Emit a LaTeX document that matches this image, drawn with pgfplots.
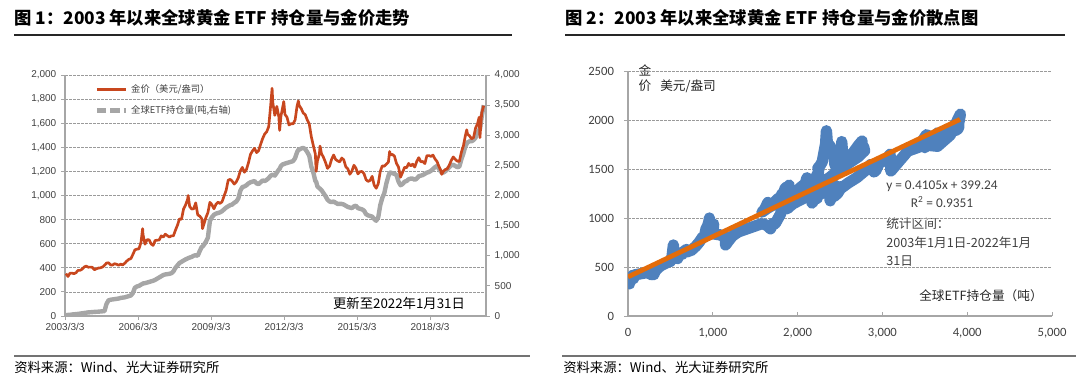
\documentclass[border=0pt]{standalone}
\usepackage{pgfplots}
\pgfplotsset{compat=1.18}
\usepackage{pgfplotstable}
\usepackage{fontspec}
\setmainfont{Liberation Sans}
\newfontfamily\cjk{Noto Sans CJK SC}
\newfontfamily\cali{Carlito}
\definecolor{goldred}{HTML}{C8471E}
\definecolor{etfgray}{HTML}{A6A6A6}
\definecolor{scblue}{HTML}{4F81BD}
\definecolor{trendor}{HTML}{E46C0A}
\definecolor{axgray}{HTML}{A6A6A6}
\definecolor{gridgray}{HTML}{9A9A9A}
\definecolor{txt}{HTML}{404040}

\pgfplotstableread{
t gold etf
2003.208 352 15
2003.292 328 18
2003.375 355 20
2003.458 356 25
2003.542 351 28
2003.625 360 32
2003.708 379 35
2003.792 379 40
2003.875 389 45
2003.958 407 50
2004.042 414 55
2004.125 405 60
2004.208 406 62
2004.292 404 65
2004.375 384 68
2004.458 392 70
2004.542 398 72
2004.625 400 75
2004.708 406 78
2004.792 420 80
2004.875 439 200
2004.958 442 260
2005.042 424 270
2005.125 423 275
2005.208 434 280
2005.292 429 285
2005.375 422 290
2005.458 430 300
2005.542 424 305
2005.625 438 310
2005.708 456 320
2005.792 470 330
2005.875 476 340
2005.958 510 380
2006.042 549 470
2006.125 555 490
2006.208 557 500
2006.292 610 520
2006.360 725 535
2006.375 676 540
2006.458 596 545
2006.542 633 555
2006.625 632 565
2006.708 598 575
2006.792 586 585
2006.875 627 600
2006.958 629 620
2007.042 631 640
2007.125 665 660
2007.208 655 680
2007.292 679 690
2007.375 667 695
2007.458 655 700
2007.542 665 710
2007.625 665 740
2007.708 712 800
2007.792 754 840
2007.875 806 880
2007.958 803 900
2008.042 889 920
2008.125 922 940
2008.208 968 955
2008.230 1000 960
2008.292 909 970
2008.375 888 980
2008.458 890 1000
2008.542 939 1010
2008.625 839 1000
2008.708 829 1080
2008.792 806 1150
2008.820 725 1150
2008.875 760 1180
2008.958 816 1230
2009.042 858 1300
2009.125 943 1580
2009.208 924 1640
2009.292 890 1680
2009.375 928 1700
2009.458 945 1710
2009.542 934 1720
2009.625 949 1740
2009.708 996 1770
2009.792 1043 1800
2009.875 1127 1820
2009.958 1134 1840
2010.042 1118 1850
2010.125 1095 1880
2010.208 1113 1900
2010.292 1148 1950
2010.375 1205 2080
2010.458 1233 2140
2010.542 1193 2150
2010.625 1215 2170
2010.708 1271 2200
2010.792 1342 2220
2010.875 1370 2230
2010.958 1391 2240
2011.042 1356 2200
2011.125 1372 2190
2011.208 1424 2220
2011.292 1473 2250
2011.375 1510 2240
2011.458 1529 2260
2011.542 1572 2290
2011.625 1756 2330
2011.680 1890 2340
2011.708 1772 2350
2011.792 1665 2330
2011.875 1739 2380
2011.958 1652 2430
2011.990 1540 2440
2012.042 1656 2490
2012.125 1742 2520
2012.160 1780 2520
2012.208 1673 2530
2012.292 1650 2540
2012.375 1585 2550
2012.458 1596 2560
2012.542 1594 2570
2012.625 1626 2620
2012.708 1744 2720
2012.760 1785 2760
2012.792 1747 2760
2012.875 1722 2780
2012.958 1685 2790
2013.042 1671 2770
2013.125 1627 2720
2013.208 1593 2660
2013.292 1487 2480
2013.375 1414 2380
2013.458 1343 2240
2013.490 1200 2230
2013.542 1286 2150
2013.625 1347 2120
2013.650 1410 2110
2013.708 1349 2090
2013.792 1316 2040
2013.875 1275 1990
2013.958 1225 1930
2014.042 1244 1900
2014.125 1300 1890
2014.208 1336 1900
2014.292 1299 1880
2014.375 1287 1860
2014.458 1279 1860
2014.542 1311 1860
2014.625 1296 1850
2014.708 1239 1830
2014.792 1222 1810
2014.875 1176 1800
2014.958 1201 1790
2015.042 1251 1820
2015.125 1227 1830
2015.208 1179 1790
2015.292 1198 1780
2015.375 1199 1770
2015.458 1181 1750
2015.542 1131 1690
2015.625 1117 1670
2015.708 1125 1660
2015.792 1159 1650
2015.875 1086 1610
2015.958 1060 1580
2016.042 1097 1640
2016.125 1200 1840
2016.208 1246 1960
2016.292 1243 2040
2016.375 1260 2200
2016.458 1276 2320
2016.510 1365 2380
2016.542 1337 2380
2016.625 1341 2370
2016.708 1326 2360
2016.792 1266 2340
2016.875 1236 2230
2016.958 1152 2170
2017.042 1192 2190
2017.125 1234 2230
2017.208 1231 2240
2017.292 1266 2270
2017.375 1246 2280
2017.458 1260 2280
2017.542 1236 2260
2017.625 1283 2280
2017.708 1314 2320
2017.792 1280 2330
2017.875 1282 2340
2017.958 1265 2360
2018.042 1331 2380
2018.125 1331 2390
2018.208 1325 2410
2018.292 1335 2440
2018.375 1303 2470
2018.458 1282 2490
2018.542 1238 2440
2018.625 1202 2390
2018.650 1175 2385
2018.708 1198 2380
2018.792 1215 2400
2018.875 1220 2430
2018.958 1250 2470
2019.042 1291 2500
2019.125 1320 2510
2019.208 1300 2490
2019.292 1285 2470
2019.375 1283 2480
2019.458 1359 2600
2019.542 1413 2700
2019.625 1500 2820
2019.680 1545 2860
2019.708 1511 2880
2019.792 1495 2900
2019.875 1471 2900
2019.958 1480 2920
2020.042 1560 2960
2020.125 1597 3050
2020.190 1650 3090
2020.220 1480 3100
2020.292 1683 3300
2020.375 1745 3500
2020.458 1732 3650
2020.542 1846 3800
2020.600 2060 3920
2020.625 1968 3900
2020.708 1922 3900
2020.792 1900 3880
2020.875 1866 3750
2020.958 1858 3700
2021.042 1867 3650
2021.125 1808 3600
2021.208 1718 3500
2021.292 1760 3450
2021.375 1850 3520
2021.458 1834 3550
2021.542 1807 3560
2021.625 1785 3570
2021.708 1775 3560
2021.792 1777 3550
2021.875 1821 3570
2021.958 1790 3580
2022.042 1817 3600
}\datatable

\begin{document}
\begin{tikzpicture}
\begin{scope}[x=0.75pt,y=0.75pt]
\path (0,0) rectangle (1080,376);
% ---------- titles and frame lines ----------
\node[anchor=west, inner sep=0pt, font=\cjk\bfseries\fontsize{13}{15}\selectfont] at (14,358) {图 1：2003 年以来全球黄金 ETF 持仓量与金价走势};
\node[anchor=west, inner sep=0pt, font=\cjk\bfseries\fontsize{13}{15}\selectfont] at (565,358) {图 2：2003 年以来全球黄金 ETF 持仓量与金价散点图};
\draw[line width=1.1pt, black!85] (14,341) -- (512,341);
\draw[line width=1.1pt, black!85] (565,341) -- (1065,341);
\draw[line width=1.3pt, black!55] (14,20) -- (530,20);
\draw[line width=1.3pt, black!55] (562,20) -- (1076,20);
\node[anchor=west, inner sep=0pt, font=\cjk\fontsize{10}{12}\selectfont] at (14,9) {资料来源：Wind、光大证券研究所};
\node[anchor=west, inner sep=0pt, font=\cjk\fontsize{10}{12}\selectfont] at (563,9) {资料来源：Wind、光大证券研究所};
\node[font=\cjk\fontsize{10}{12}\selectfont, inner sep=0pt] at (399,73) {更新至2022年1月31日};
\node[font=\cjk\fontsize{9.5}{11}\selectfont, inner sep=0pt, text=black!85] at (645,306) {金};
\node[font=\cjk\fontsize{9.5}{11}\selectfont, inner sep=0pt, text=black!85] at (645,290) {价};
\node[anchor=west, font=\cjk\fontsize{9.5}{11}\selectfont, inner sep=0pt, text=black!85] at (660,290) {美元/盎司};
\node[font=\cali\fontsize{10}{12}\selectfont, inner sep=0pt, text=txt] at (942,190) {y = 0.4105x + 399.24};
\node[font=\cali\fontsize{10}{12}\selectfont, inner sep=0pt, text=txt] at (942,174) {R\textsuperscript{2} = 0.9351};
\node[anchor=west, font=\cjk\fontsize{9.5}{11}\selectfont, inner sep=0pt, text=txt] at (886,152) {统计区间：};
\node[anchor=west, font=\cjk\fontsize{9.5}{11}\selectfont, inner sep=0pt, text=txt] at (886,133) {2003年1月1日-2022年1月};
\node[anchor=west, font=\cjk\fontsize{9.5}{11}\selectfont, inner sep=0pt, text=txt] at (886,115) {31日};
\node[font=\cjk\fontsize{9.5}{11}\selectfont, inner sep=0pt, text=black!85] at (981,80) {全球ETF持仓量（吨）};
\end{scope}

% ---------- left chart: grid, ticks, legend ----------
\begin{axis}[
  at={(48.75pt,45pt)}, anchor=south west, scale only axis,
  width=315.75pt, height=180.75pt,
  xmin=2003.17, xmax=2020.47, ymin=0, ymax=2000,
  xtick={2003.17,2006.17,2009.17,2012.17,2015.17,2018.17},
  xticklabels={2003/3/3,2006/3/3,2009/3/3,2012/3/3,2015/3/3,2018/3/3},
  ytick={0,200,...,2000},
  ymajorgrids, grid style={gridgray, line width=0.5pt, dash pattern=on 2pt off 1pt},
  axis x line*=bottom, axis y line*=left,
  axis line style={axgray, line width=1pt, -},
  tick style={axgray, line width=0.7pt}, tick align=outside, major tick length=3pt,
  ticklabel style={font=\fontsize{7.5}{9}\selectfont, text=txt},
  /pgf/number format/assume math mode=true,
  /pgf/number format/1000 sep={,},
  xticklabel style={yshift=1pt},
  legend style={at={(0.06,0.985)}, anchor=north west, draw=none, fill=none,
    font=\cjk\fontsize{7}{8}\selectfont, row sep=4.5pt, text=txt,
    cells={anchor=west}},
  legend image code/.code={\draw[#1] (0pt,0pt) -- (22pt,0pt);},
]
\addlegendimage{goldred, line width=2pt}
\addlegendentry{金价（美元/盎司）}
\addlegendimage{etfgray, line width=3.5pt, dash pattern=on 7pt off 3pt}
\addlegendentry{全球ETF持仓量(吨,右轴)}
\end{axis}

% ---------- left chart: ETF holdings on right axis ----------
\begin{axis}[
  at={(48.75pt,45pt)}, anchor=south west, scale only axis,
  width=315.75pt, height=180.75pt,
  xmin=2003.17, xmax=2020.47, ymin=0, ymax=4000,
  axis x line=none, axis y line*=right,
  ytick={0,500,...,4000},
  axis line style={axgray, line width=1pt, -},
  tick style={axgray, line width=0.7pt}, tick align=outside, major tick length=3pt,
  ticklabel style={font=\fontsize{7.5}{9}\selectfont, text=txt},
  /pgf/number format/assume math mode=true,
  /pgf/number format/1000 sep={,},
]
\addplot[etfgray, line width=3.3pt, line join=round, restrict x to domain=2003:2020.4] table[x=t, y=etf]{\datatable};
\end{axis}

% ---------- left chart: gold price ----------
\begin{axis}[
  at={(48.75pt,45pt)}, anchor=south west, scale only axis,
  width=315.75pt, height=180.75pt,
  xmin=2003.17, xmax=2020.47, ymin=0, ymax=2000,
  axis lines=none,
]
\addplot[goldred, line width=2pt, line join=round, restrict x to domain=2003:2020.4] table[x=t, y=gold]{\datatable};
\end{axis}

% ---------- right chart: scatter ----------
\begin{axis}[
  at={(471pt,45pt)}, anchor=south west, scale only axis,
  width=318pt, height=183.75pt,
  xmin=0, xmax=5000, ymin=0, ymax=2500,
  xtick={0,1000,...,5000}, ytick={0,500,...,2500},
  ymajorgrids, grid style={gridgray, line width=0.5pt, dash pattern=on 2pt off 1pt},
  axis x line*=bottom, axis y line*=left,
  axis line style={axgray, line width=1pt, -},
  tick style={axgray, line width=0.7pt}, tick align=outside, major tick length=3pt,
  x tick style={yshift=3pt},
  ticklabel style={font=\cali\fontsize{9.5}{11}\selectfont, text=txt},
  /pgf/number format/assume math mode=true,
  xticklabel style={/pgf/number format/1000 sep={,}, yshift=-3pt},
  yticklabel style={/pgf/number format/1000 sep={}, xshift=-4pt},
]
\addplot[scblue, line width=8.5pt, line join=round, line cap=round] table[x=etf, y=gold]{\datatable};
\addplot[trendor, line width=3.6pt] coordinates {(0,399.24) (3915,2006.3)};
\end{axis}
\end{tikzpicture}
\end{document}
